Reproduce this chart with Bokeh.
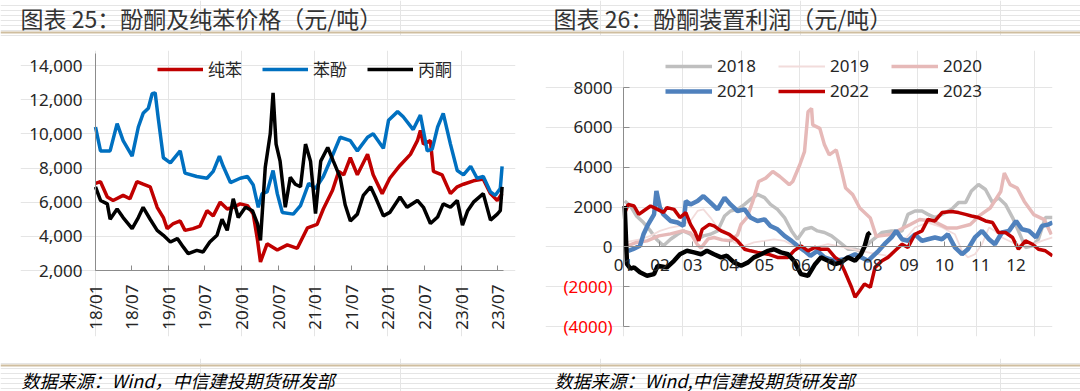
import math
import calendar
import pandas as pd
from bokeh.plotting import figure
from bokeh.layouts import column, row
from bokeh.models import Range1d, FixedTicker, CustomJSTickFormatter, LinearAxis, Span
from bokeh.core.properties import value
from bokeh.embed import file_html
from bokeh.resources import INLINE

# ---------------- texts ----------------
title_left = "图表 25：酚酮及纯苯价格（元/吨）"
title_right = "图表 26：酚酮装置利润（元/吨）"
source_left = "数据来源：Wind，中信建投期货研发部"
source_right = "数据来源：Wind,中信建投期货研发部"

# ---------------- chart 25 data ----------------
left_tick_labels = ["18/01", "18/07", "19/01", "19/07", "20/01", "20/07",
                    "21/01", "21/07", "22/01", "22/07", "23/01", "23/07"]
left_y_ticks = [2000, 4000, 6000, 8000, 10000, 12000, 14000]
left_x_start, left_x_end = "2018-01-01", "2023-08-01"

benzene_dates = ["2018-01-01", "2018-01-26", "2018-03-01", "2018-03-30", "2018-05-19", "2018-06-22",
                 "2018-07-27", "2018-08-27", "2018-10-01", "2018-11-05", "2018-12-06", "2018-12-25",
                 "2019-01-25", "2019-02-28", "2019-03-24", "2019-05-03", "2019-06-07", "2019-07-12",
                 "2019-08-12", "2019-09-16", "2019-10-21", "2019-11-20", "2019-12-25", "2020-01-30",
                 "2020-02-28", "2020-03-20", "2020-04-04", "2020-05-07", "2020-06-27", "2020-08-16",
                 "2020-10-05", "2020-11-25", "2021-01-12", "2021-02-12", "2021-03-30", "2021-04-30",
                 "2021-05-25", "2021-06-27", "2021-08-01", "2021-09-21", "2021-10-19", "2021-12-03",
                 "2022-01-10", "2022-03-02", "2022-04-23", "2022-05-28", "2022-06-12", "2022-06-27",
                 "2022-08-01", "2022-08-16", "2022-09-28", "2022-11-09", "2022-12-13", "2023-01-13",
                 "2023-03-04", "2023-04-22", "2023-05-28", "2023-07-01", "2023-07-25"]
benzene = [7100, 7200, 6300, 6100, 6400, 6200, 7200, 7050, 6900, 5700, 5100, 4450,
           4750, 4900, 4350, 4450, 4600, 5500, 5200, 6000, 5600, 5700, 5900, 5800,
           5300, 3800, 2500, 3560, 3200, 3500, 3300, 4500, 4700, 5600, 6700, 7800,
           7600, 8600, 7600, 8800, 7600, 6500, 7400, 8150, 8800, 9600, 10200, 9400,
           9600, 7800, 7600, 6500, 6900, 7050, 7250, 7350, 6500, 6100, 6500]

phenol_dates = ["2018-01-01", "2018-01-26", "2018-03-15", "2018-04-19", "2018-05-19", "2018-07-03",
                "2018-08-03", "2018-08-27", "2018-09-22", "2018-10-11", "2018-10-26", "2018-11-10",
                "2018-12-06", "2019-01-10", "2019-02-28", "2019-03-24", "2019-05-22", "2019-07-12",
                "2019-08-12", "2019-09-12", "2019-10-01", "2019-11-06", "2019-12-25", "2020-01-30",
                "2020-02-28", "2020-03-24", "2020-04-12", "2020-05-07", "2020-06-06", "2020-06-27",
                "2020-07-22", "2020-09-15", "2020-10-21", "2020-12-01", "2021-01-04", "2021-02-12",
                "2021-04-03", "2021-05-07", "2021-06-27", "2021-08-01", "2021-09-21", "2021-10-19",
                "2021-12-09", "2022-01-04", "2022-02-18", "2022-03-18", "2022-05-07", "2022-06-12",
                "2022-07-16", "2022-08-10", "2022-09-06", "2022-10-04", "2022-11-09", "2022-12-13",
                "2023-01-13", "2023-02-18", "2023-03-22", "2023-04-22", "2023-05-28", "2023-06-21",
                "2023-07-16", "2023-07-25"]
phenol = [10400, 9000, 9000, 10600, 9600, 8700, 10400, 11200, 11500, 12350, 12400, 10950,
          8600, 8300, 9000, 7700, 7500, 7400, 7800, 8700, 8100, 7150, 7400, 7500,
          7000, 5700, 6500, 6600, 7850, 6500, 5400, 5300, 5800, 7100, 6800, 7500,
          8850, 9800, 9600, 9000, 9800, 10000, 9150, 10800, 11300, 11000, 10250, 11100,
          9000, 9100, 10400, 11200, 9400, 7850, 7600, 8100, 7400, 7500, 6600, 6400,
          6800, 8100]

acetone_dates = ["2018-01-01", "2018-01-26", "2018-03-01", "2018-03-15", "2018-04-19", "2018-05-19",
                 "2018-07-03", "2018-08-03", "2018-08-27", "2018-10-01", "2018-11-05", "2018-12-06",
                 "2019-01-10", "2019-02-14", "2019-03-15", "2019-04-09", "2019-05-22", "2019-06-22",
                 "2019-07-26", "2019-08-31", "2019-09-25", "2019-10-21", "2019-11-20", "2019-12-15",
                 "2020-01-20", "2020-02-24", "2020-03-20", "2020-04-04", "2020-04-28", "2020-05-23",
                 "2020-06-06", "2020-06-21", "2020-07-11", "2020-08-06", "2020-08-31", "2020-09-25",
                 "2020-10-21", "2020-11-15", "2020-12-10", "2021-01-04", "2021-01-30", "2021-03-06",
                 "2021-04-03", "2021-05-07", "2021-06-01", "2021-06-27", "2021-08-01", "2021-08-31",
                 "2021-10-06", "2021-10-30", "2021-12-09", "2022-01-10", "2022-03-02", "2022-04-06",
                 "2022-05-28", "2022-06-27", "2022-08-01", "2022-09-06", "2022-10-04", "2022-11-09",
                 "2022-12-13", "2023-01-08", "2023-02-03", "2023-03-04", "2023-04-22", "2023-05-28",
                 "2023-07-01", "2023-07-16", "2023-07-25"]
acetone = [6900, 6100, 5900, 5000, 5600, 5100, 4450, 5100, 5700, 5000, 4350, 4060,
           3670, 3870, 3380, 2990, 3180, 3080, 3670, 4060, 5000, 4350, 6200, 5100,
           5700, 5500, 4750, 3760, 8050, 10000, 12400, 9400, 8400, 5700, 7450, 7050,
           6900, 9400, 8400, 5330, 8400, 9200, 8400, 7450, 5850, 4900, 5300, 6400,
           6900, 6300, 5200, 5400, 6300, 5700, 6100, 5700, 4750, 5130, 5900, 5700,
           6100, 4650, 5500, 6000, 6500, 4950, 5300, 5500, 6900]

# ---------------- chart 26 data (x = day of year) ----------------
month_labels = ["01", "02", "03", "04", "05", "06", "07", "08", "09", "10", "11", "12"]
right_y_ticks = [-4000, -2000, 0, 2000, 4000, 6000, 8000]

days_2018 = [1, 6, 11, 17, 23, 28, 34, 40, 46, 51, 57, 63, 68, 74, 80, 86, 91, 97, 103, 108,
             114, 120, 125, 131, 137, 143, 148, 154, 160, 165, 171, 177, 184, 191, 197, 202,
             211, 220, 228, 237, 242, 248, 254, 259, 265, 271, 279, 285, 291, 296, 302, 308,
             314, 319, 325, 331, 336, 342, 348, 353, 359, 365]
profit_2018 = [2300, 2050, 1550, 1220, 800, 380, 50, 380, 630, 800, 630, 380, 550, 630, 800,
               1550, 1800, 1880, 2130, 2380, 2630, 2470, 2130, 1880, 1470, 800, 380, 880, 970,
               800, 720, 550, 220, -120, -120, -200, 300, 720, 800, 800, 1630, 1800, 1800,
               1630, 1470, 1630, 1880, 2220, 2220, 2800, 3130, 2880, 2220, 2470, 2130, 1470,
               800, -30, 50, 380, 1470, 1470]

days_2019 = [1, 14, 23, 31, 40, 48, 57, 63, 68, 74, 80, 86, 94, 103, 111, 120, 128, 137, 145,
             154, 163, 174, 186, 198, 210, 225, 236, 248, 259, 271, 282, 288, 293, 299, 305,
             311, 316, 322, 334, 345, 356, 365]
profit_2019 = [220, 380, 550, 800, 970, 1050, 1300, 1800, 1880, 1470, 970, 800, 220, 50, 220,
               300, 380, 300, 50, -120, -30, 130, 0, -150, -300, -450, 130, 970, 1220, 970,
               630, -200, -530, -370, 130, 970, 800, 470, 130, 50, 300, 470]

days_2020 = [1, 10, 20, 30, 40, 50, 57, 63, 66, 72, 77, 84, 91, 97, 100, 105, 110, 115, 121,
             127, 133, 141, 144, 150, 154, 157, 160, 161, 167, 171, 175, 181, 185, 189, 195,
             201, 210, 215, 227, 244, 252, 264, 275, 284, 295, 304, 312, 321, 324, 329, 335,
             341, 349, 358, 364]
profit_2020 = [0, 200, 300, 550, 650, 800, 700, 100, -50, 400, 470, 350, 300, 600, 1130, 1470,
               2280, 3280, 3450, 3780, 3530, 3120, 3280, 4120, 4780, 6780, 6950, 6120, 5950,
               5120, 4620, 4870, 3950, 2950, 2620, 1950, 1450, 530, 620, 1120, 1370, 1280, 950,
               950, 1120, 1620, 1950, 2780, 3700, 3120, 2950, 2280, 1620, 1370, 620]

days_2021 = [4, 8, 14, 17, 21, 26, 28, 31, 34, 40, 46, 51, 53, 57, 63, 68, 74, 80, 86, 91, 97,
             103, 108, 114, 120, 125, 131, 137, 143, 148, 154, 159, 165, 171, 180, 188, 197,
             208, 217, 222, 228, 232, 237, 242, 248, 254, 259, 265, 271, 276, 282, 288, 293,
             299, 305, 311, 316, 322, 328, 334, 339, 345, 351, 356, 362, 365]
profit_2021 = [-200, -120, 50, 630, 1130, 1630, 2800, 1970, 1630, 1300, 1220, 1050, 2300, 2130,
               2300, 2550, 2220, 1880, 2470, 2130, 1800, 1880, 1470, 1300, 1380, 1050, 880, 550,
               300, 50, -200, -450, -200, -530, -700, -620, -370, -700, -200, 130, 470, 800,
               380, 300, 630, 300, 380, 470, 380, 630, -30, -370, -120, 470, 800, 380, 130,
               720, 800, 1300, 880, 800, 470, 1050, 1130, 1220]

days_2022 = [1, 4, 9, 13, 17, 23, 29, 34, 37, 43, 48, 53, 57, 61, 64, 67, 73, 77, 83, 90, 97,
             103, 108, 114, 123, 131, 140, 145, 151, 157, 163, 168, 174, 180, 184, 188, 194,
             197, 201, 205, 210, 214, 220, 225, 231, 237, 242, 248, 254, 259, 265, 271, 279,
             285, 291, 296, 302, 308, 314, 319, 325, 331, 336, 342, 348, 353, 359, 365]
profit_2022 = [1700, 2130, 2050, 1630, 1800, 2050, 1880, 1720, 1970, 1880, 1470, 1720, 1130,
               720, 300, 880, 1130, 1050, 800, 630, 300, -120, -200, -280, -370, -530, -530,
               -200, 50, -200, -30, -120, -120, -530, -700, -1200, -2030, -2530, -2200, -1870,
               -2030, -1030, -700, -530, -200, 130, -30, 630, 800, 1380, 1300, 1720, 1770,
               1720, 1630, 1550, 1470, 1300, 1220, 720, 720, 470, -120, 300, 130, -120, -200,
               -450]

days_2023 = [1, 3, 6, 9, 14, 20, 26, 29, 37, 43, 48, 54, 60, 66, 71, 77, 83, 88, 94, 100, 106,
             111, 117, 123, 128, 134, 140, 145, 151, 157, 163, 168, 174, 180, 185, 191, 197,
             202, 205, 208, 210]
profit_2023 = [2050, -870, -1100, -1030, -1280, -1450, -1370, -950, -1030, -700, -370, -200,
               -280, -370, -200, -370, -530, -450, -780, -950, -780, -530, -370, -200, -120,
               -280, -370, -700, -1370, -1450, -870, -530, -700, -870, -780, -530, -700, -370,
               0, 630, 720]

# ---------------- styles / geometry (pixels) ----------------
FONT = "Noto Sans"
CJK = "Noto Sans CJK SC"
AXIS_GRAY = "#8C8C8C"
TXT = "#262626"
TAN = "#CFBE9F"

TOTAL_W = 1080
TOP_H, ROW_H, BOT_H = 36, 322, 33
BORDER_TOP, BORDER_BOTTOM = 14, 22          # shared by both charts (frames are aligned in a row)
FRAME_TOP = TOP_H + BORDER_TOP               # 50
FRAME_BOTTOM = TOP_H + ROW_H - BORDER_BOTTOM # 336


def blank_axis(ax):
    ax.formatter = CustomJSTickFormatter(code="return ''")
    ax.major_label_standoff = 0
    ax.major_tick_out = 0
    ax.axis_line_color = AXIS_GRAY
    ax.major_tick_line_color = AXIS_GRAY
    ax.minor_tick_line_color = None


# ---------------- top strip ----------------
top = figure(width=TOTAL_W, height=TOP_H, x_range=Range1d(0, TOTAL_W), y_range=Range1d(TOP_H, 0),
             x_axis_location=None, y_axis_location=None, toolbar_location=None,
             output_backend="svg", min_border=0, outline_line_color=None)
top.add_layout(Span(location=32, dimension="width", line_color=TAN, line_width=2))
top.text(x=[20, 553], y=[17.5, 17.5], text=[title_left, title_right], text_font=value(CJK),
         text_font_size="23px", text_baseline="middle", text_color="#333333")

# ---------------- chart 25 ----------------
bdates = pd.to_datetime(benzene_dates)
pdates = pd.to_datetime(phenol_dates)
adates = pd.to_datetime(acetone_dates)
tick_dates = pd.to_datetime(["20" + t.replace("/", "-") + "-01" for t in left_tick_labels])
tick_ms = [int(d.value // 10**6) for d in tick_dates]
x0_ms = int(pd.Timestamp(left_x_start).value // 10**6)
x1_ms = int(pd.Timestamp(left_x_end).value // 10**6)

AX1_LEFT, AX1_RIGHT = 95, 503                # axis span in px
FRAME1_LEFT, FRAME1_RIGHT = 20, 515          # frame leaves room for the tick labels
ppms = (AX1_RIGHT - AX1_LEFT) / (x1_ms - x0_ms)
ppu1 = (270 - 65) / (left_y_ticks[-1] - left_y_ticks[0])      # 14000 at 65 px, 2000 at 270 px
y1_end = left_y_ticks[-1] + (65 - FRAME_TOP) / ppu1
y1_start = left_y_ticks[0] - (FRAME_BOTTOM - 270) / ppu1
y1_axis_top = left_y_ticks[-1] + (65 - 53) / ppu1

p1 = figure(width=540, height=ROW_H, x_axis_type="datetime",
            x_range=Range1d(x0_ms - (AX1_LEFT - FRAME1_LEFT) / ppms,
                            x1_ms + (FRAME1_RIGHT - AX1_RIGHT) / ppms),
            y_range=Range1d(y1_start, y1_end), x_axis_location=None, y_axis_location=None,
            toolbar_location=None, output_backend="svg",
            min_border_left=FRAME1_LEFT, min_border_right=540 - FRAME1_RIGHT,
            min_border_top=BORDER_TOP, min_border_bottom=BORDER_BOTTOM, outline_line_color=None)
p1.line(bdates, benzene, line_color="#C00000", line_width=3.5, legend_label="纯苯")
p1.line(pdates, phenol, line_color="#0070C0", line_width=3.5, legend_label="苯酚")
p1.line(adates, acetone, line_color="#000000", line_width=3.5, legend_label="丙酮")

xax1 = LinearAxis(fixed_location=left_y_ticks[0], bounds=(x0_ms, x1_ms),
                  ticker=FixedTicker(ticks=tick_ms), major_tick_in=5)
yax1 = LinearAxis(fixed_location=x0_ms, bounds=(left_y_ticks[0], y1_axis_top),
                  ticker=FixedTicker(ticks=left_y_ticks), major_tick_in=0)
blank_axis(xax1)
blank_axis(yax1)
p1.add_layout(xax1, "below")
p1.add_layout(yax1, "left")

# y tick labels (with thousands separator) left of the axis
p1.text(x=[x0_ms] * len(left_y_ticks), y=left_y_ticks, text=[f"{t:,}" for t in left_y_ticks],
        text_align="right", text_baseline="middle", x_offset=-13,
        text_font=value(FONT), text_font_size="17px", text_color=TXT)
# rotated date labels under the axis
p1.text(x=tick_dates, y=[left_y_ticks[0]] * len(tick_dates), text=left_tick_labels,
        angle=math.pi / 2, text_align="right", text_baseline="middle", y_offset=14,
        text_font=value(FONT), text_font_size="17px", text_color=TXT)

lg1 = p1.legend[0]
lg1.orientation = "horizontal"
lg1.location = (157 - FRAME1_LEFT, FRAME_BOTTOM - 81)
lg1.border_line_color = None
lg1.background_fill_alpha = 0
lg1.padding = 0
lg1.margin = 0
lg1.spacing = 20
lg1.glyph_width = 46
lg1.glyph_height = 20
lg1.label_height = 20
lg1.label_standoff = 5
lg1.label_text_font = CJK
lg1.label_text_font_size = "17px"
lg1.label_text_color = TXT

# ---------------- chart 26 ----------------
cum = [0]
for m in range(1, 12):
    cum.append(cum[-1] + calendar.monthrange(2021, m)[1])
month_days = cum

P2_LEFT = 540
FRAME2_LEFT = 545
ppd = (1052 - 623) / 365                        # day 0 at x=623, day 365 at x=1052
ppu2 = (326 - 87) / (right_y_ticks[-1] - right_y_ticks[0])   # 8000 at 87, -4000 at 326
x2_start = -(623 - FRAME2_LEFT) / ppd
y2_end = right_y_ticks[-1] + (87 - FRAME_TOP) / ppu2
y2_start = right_y_ticks[0] - (FRAME_BOTTOM - 326) / ppu2

p2 = figure(width=TOTAL_W - P2_LEFT, height=ROW_H, x_range=Range1d(x2_start, 365),
            y_range=Range1d(y2_start, y2_end),
            x_axis_location=None, y_axis_location=None, toolbar_location=None,
            output_backend="svg", min_border_left=FRAME2_LEFT - P2_LEFT,
            min_border_right=TOTAL_W - 1052,
            min_border_top=BORDER_TOP, min_border_bottom=BORDER_BOTTOM, outline_line_color=None)
series = [
    (days_2018, profit_2018, "#BFBFBF", 3.5, "2018"),
    (days_2019, profit_2019, "#F2DCDB", 1.8, "2019"),
    (days_2020, profit_2020, "#E6B9B8", 3.5, "2020"),
    (days_2021, profit_2021, "#4F81BD", 4.5, "2021"),
    (days_2022, profit_2022, "#C00000", 3.5, "2022"),
    (days_2023, profit_2023, "#000000", 4.5, "2023"),
]
for d, v, c, w, lab in series:
    p2.line(d, v, line_color=c, line_width=w, legend_label=lab)

xa2 = LinearAxis(fixed_location=0, bounds=(0, 365), ticker=FixedTicker(ticks=month_days),
                 major_tick_in=5)
ya2 = LinearAxis(fixed_location=0, bounds=(right_y_ticks[0], right_y_ticks[-1]),
                 ticker=FixedTicker(ticks=right_y_ticks), major_tick_in=6)
blank_axis(xa2)
blank_axis(ya2)
p2.add_layout(xa2, "below")
p2.add_layout(ya2, "left")

# month labels under the zero line
p2.text(x=month_days, y=[0] * len(month_days), text=month_labels, text_align="center",
        text_baseline="top", y_offset=12, text_font=value(FONT), text_font_size="17px",
        text_color=TXT)
# y tick labels: negatives in red with parentheses
right_y_labels = [f"({abs(t)})" if t < 0 else str(t) for t in right_y_ticks]
right_y_colors = ["#FF0000" if t < 0 else TXT for t in right_y_ticks]
p2.text(x=[0] * len(right_y_ticks), y=right_y_ticks, text=right_y_labels,
        text_color=right_y_colors, text_align="right", text_baseline="middle", x_offset=-11,
        text_font=value(FONT), text_font_size="17px")

lg2 = p2.legend[0]
lg2.orientation = "horizontal"
lg2.ncols = 3
lg2.location = (665 - FRAME2_LEFT, FRAME_BOTTOM - 102)
lg2.border_line_color = None
lg2.background_fill_alpha = 0
lg2.padding = 0
lg2.margin = 0
lg2.spacing = 2
lg2.glyph_width = 47
lg2.glyph_height = 20
lg2.label_height = 20
lg2.label_width = 59
lg2.label_standoff = 5
lg2.label_text_font = FONT
lg2.label_text_font_size = "17px"
lg2.label_text_color = TXT

# ---------------- bottom strip ----------------
bottom = figure(width=TOTAL_W, height=BOT_H, x_range=Range1d(0, TOTAL_W), y_range=Range1d(BOT_H, 0),
                x_axis_location=None, y_axis_location=None, toolbar_location=None,
                output_backend="svg", min_border=0, outline_line_color=None)
bottom.add_layout(Span(location=7, dimension="width", line_color=TAN, line_width=2))
bottom.text(x=[21, 554], y=[21, 21], text=[source_left, source_right], text_font=value(CJK),
            text_font_size="18px", text_font_style="italic", text_baseline="middle",
            text_color="#000000")

layout = column(top, row(p1, p2), bottom)
open("out.html", "w").write(file_html(layout, INLINE))
